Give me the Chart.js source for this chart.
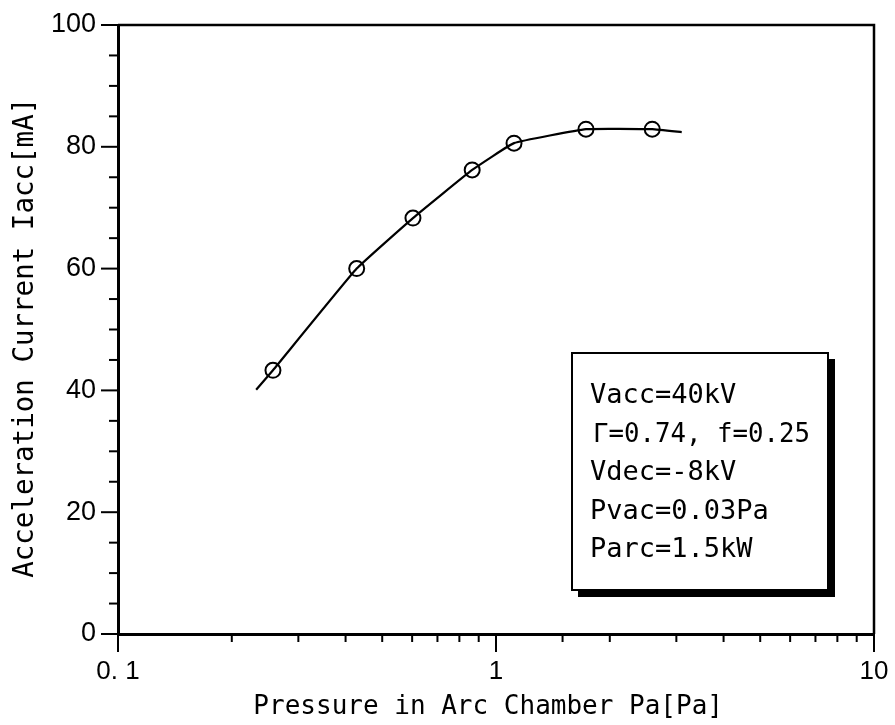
<!DOCTYPE html>
<html lang="en">

<head>
    <meta charset="UTF-8">
    <title>Acceleration Current vs Arc Chamber Pressure</title>
    <script src="https://cdn.jsdelivr.net/npm/chart.js"></script>
    <style>
        body { margin: 0; background: #fff; }
    </style>
</head>

<body>
    <canvas id="iaccChart" width="895" height="725"></canvas>

    <script>
        // measured points (circles)
        const pressure = [0.257, 0.428, 0.603, 0.865, 1.116, 1.73, 2.59];
        const current = [43.3, 60.0, 68.3, 76.2, 80.6, 82.9, 82.9];

        // fitted curve drawn through the points
        const curveP = [0.232, 0.257, 0.428, 0.603, 0.865, 1.116, 1.73, 2.59, 3.10];
        const curveI = [40.1, 43.3, 60.0, 68.3, 76.2, 80.6, 82.9, 82.9, 82.4];

        const xTickLabels = ['0. 1', '1', '10'];   // for 10^-1, 10^0, 10^1
        const yTickLabels = [0, 20, 40, 60, 80, 100];

        const conditions = ['Vacc=40kV', 'Γ=0.74, f=0.25', 'Vdec=-8kV', 'Pvac=0.03Pa', 'Parc=1.5kW'];

        const monoFont = '"DejaVu Sans Mono", "Liberation Mono", monospace';
        const sansFont = '"Liberation Sans", Arial, sans-serif';

        function isDecade(v) {
            const l = Math.log10(v);
            return Math.abs(l - Math.round(l)) < 1e-9;
        }

        // frame, tick marks and the conditions box
        const extras = {
            id: 'extras',
            afterDraw(chart) {
                const ctx = chart.ctx;
                const a = chart.chartArea;
                const xs = chart.scales.x, ys = chart.scales.y;
                ctx.save();
                ctx.strokeStyle = '#000';

                // top and right frame
                ctx.lineWidth = 2.5;
                ctx.beginPath();
                ctx.moveTo(a.left, a.top);
                ctx.lineTo(a.right, a.top);
                ctx.lineTo(a.right, a.bottom);
                ctx.stroke();

                // outward tick marks
                ctx.lineWidth = 2;
                xs.ticks.forEach(t => {
                    const px = xs.getPixelForValue(t.value);
                    const len = isDecade(t.value) ? 18 : 8;
                    ctx.beginPath();
                    ctx.moveTo(px, a.bottom);
                    ctx.lineTo(px, a.bottom + len);
                    ctx.stroke();
                });
                ys.ticks.forEach(t => {
                    const py = ys.getPixelForValue(t.value);
                    const len = yTickLabels.includes(t.value) ? 17 : 9;
                    ctx.beginPath();
                    ctx.moveTo(a.left, py);
                    ctx.lineTo(a.left - len, py);
                    ctx.stroke();
                });

                // conditions box with shadow
                const bx = 572, by = 353, bw = 256, bh = 237;
                ctx.fillStyle = '#000';
                ctx.fillRect(bx + 6, by + 6, bw + 1, bh + 1);
                ctx.fillStyle = '#fff';
                ctx.fillRect(bx, by, bw, bh);
                ctx.lineWidth = 2;
                ctx.strokeRect(bx, by, bw, bh);

                ctx.fillStyle = '#000';
                ctx.font = '27px ' + monoFont;
                ctx.textBaseline = 'alphabetic';
                ctx.textAlign = 'left';
                conditions.forEach((line, i) => {
                    ctx.fillText(line, i === 1 ? 593 : 590, 403 + i * 38.5, 217);
                });
                ctx.restore();
            }
        };

        new Chart(document.getElementById('iaccChart'), {
            type: 'scatter',
            data: {
                datasets: [
                    {
                        type: 'line',
                        data: curveP.map((p, i) => ({ x: p, y: curveI[i] })),
                        borderColor: '#000',
                        borderWidth: 2.2,
                        pointRadius: 0,
                        tension: 0.1,
                        fill: false
                    },
                    {
                        data: pressure.map((p, i) => ({ x: p, y: current[i] })),
                        borderColor: '#000',
                        backgroundColor: 'rgba(0,0,0,0)',
                        borderWidth: 2,
                        pointRadius: 7.5,
                        pointHoverRadius: 7.5
                    }
                ]
            },
            options: {
                responsive: false,
                animation: false,
                events: [],
                layout: { padding: { top: 25, right: 21, left: 0, bottom: 0 } },
                plugins: {
                    legend: { display: false },
                    tooltip: { enabled: false }
                },
                scales: {
                    x: {
                        type: 'logarithmic',
                        min: 0.1,
                        max: 10,
                        afterFit: s => { s.height = 91; s.paddingLeft = 0; s.paddingRight = 0; },
                        grid: { display: false, drawTicks: false },
                        border: { display: true, color: '#000', width: 3 },
                        ticks: {
                            autoSkip: false,
                            maxRotation: 0,
                            padding: 22,
                            color: '#000',
                            font: { family: sansFont, size: 26 },
                            callback: v => isDecade(v) ? xTickLabels[Math.round(Math.log10(v)) + 1] : ''
                        },
                        title: {
                            display: true,
                            text: 'Pressure in Arc Chamber Pa[Pa] ',
                            color: '#000',
                            font: { family: monoFont, size: 26 },
                            padding: { top: 0, bottom: 2 }
                        }
                    },
                    y: {
                        min: 0,
                        max: 100,
                        afterFit: s => { s.width = 118; s.paddingTop = 0; s.paddingBottom = 0; },
                        grid: { display: false, drawTicks: false },
                        border: { display: true, color: '#000', width: 3 },
                        ticks: {
                            stepSize: 5,
                            autoSkip: false,
                            padding: 22,
                            color: '#000',
                            font: { family: sansFont, size: 27 },
                            callback: v => yTickLabels.includes(v) ? v : ''
                        },
                        title: {
                            display: true,
                            text: 'Acceleration Current Iacc[mA] ',
                            color: '#000',
                            font: { family: monoFont, size: 27.5 },
                            padding: { top: 9, bottom: 0 }
                        }
                    }
                }
            },
            plugins: [extras]
        });
    </script>
</body>

</html>
